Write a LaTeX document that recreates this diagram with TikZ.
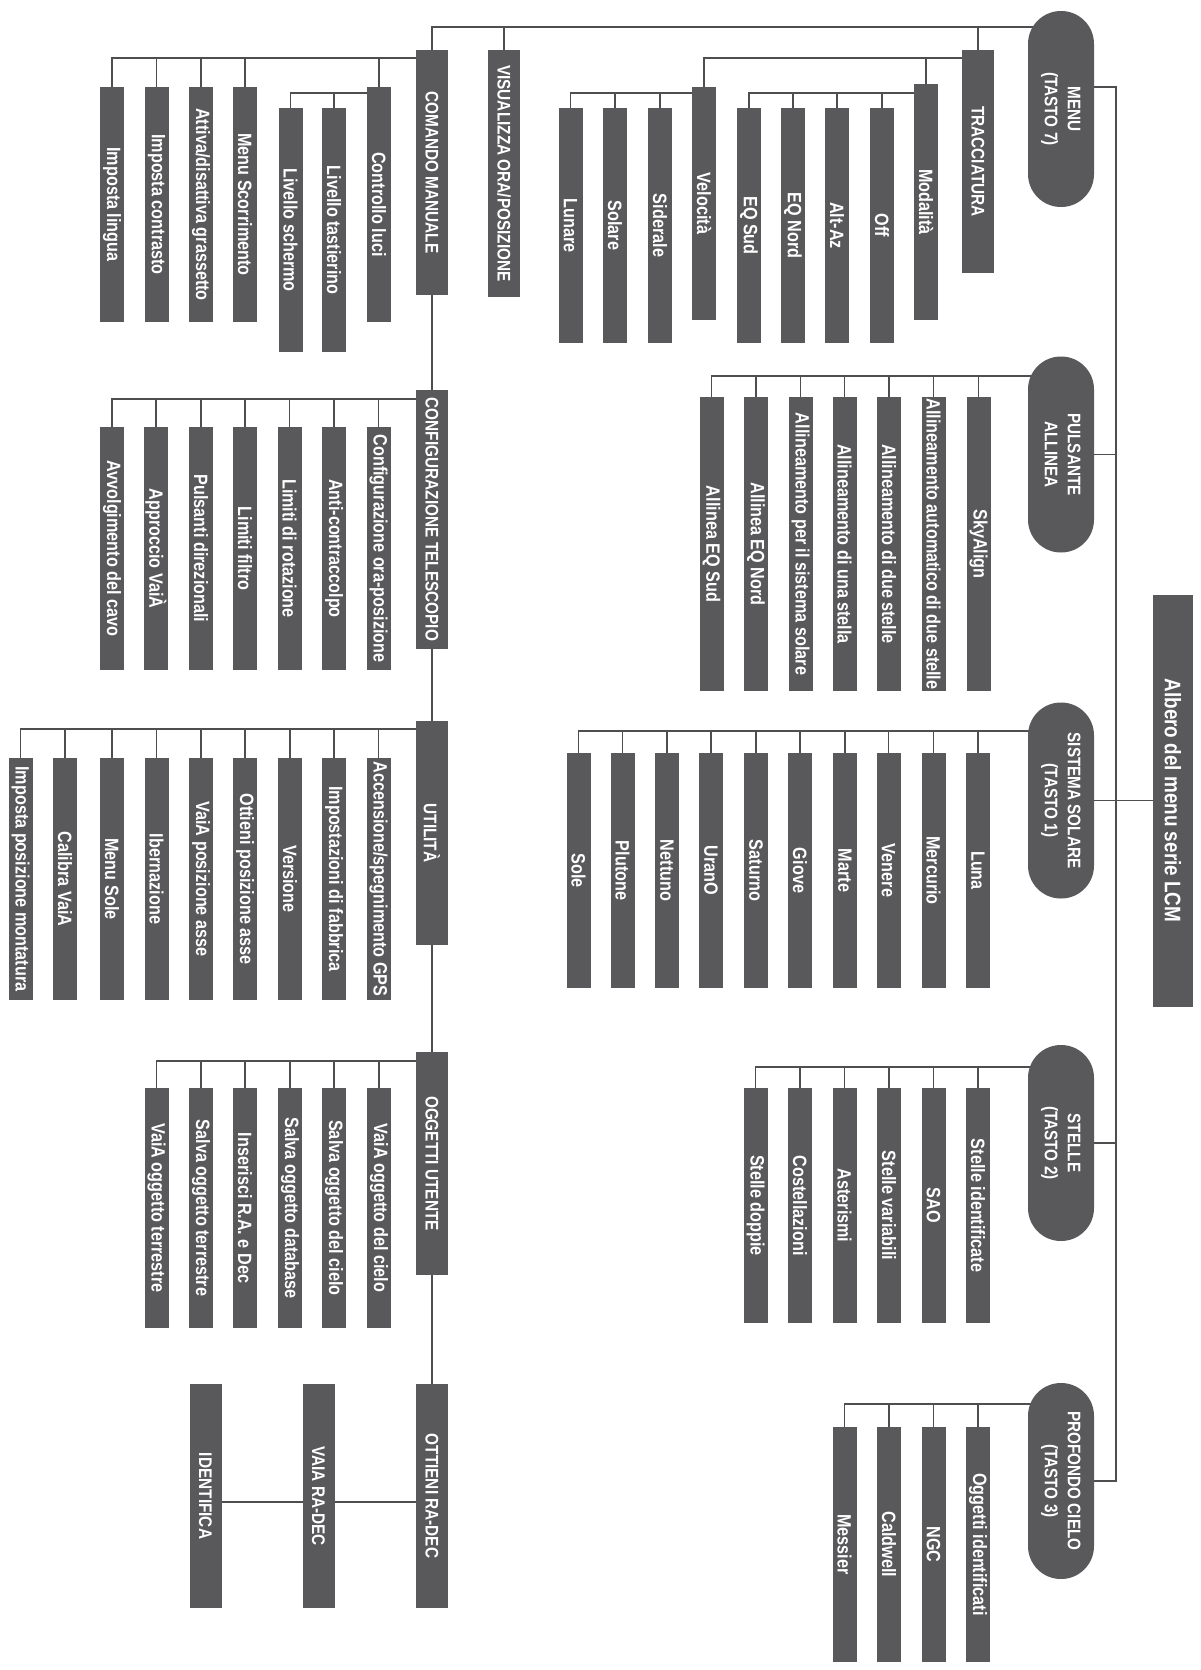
\documentclass[tikz,border=0pt]{standalone}
\usepackage{fontspec}
\setmainfont{Liberation Sans}
\newfontfamily\lblfont{Liberation Sans Bold}[FakeStretch=0.84]
\usepackage{graphicx}
\usetikzlibrary{backgrounds}
\definecolor{boxc}{RGB}{89,88,90}
\definecolor{linec}{RGB}{78,78,78}
\tikzset{
  conn/.style={draw=linec, line width=1.5pt},
  leaf/.style={fill=boxc, text=white, inner sep=0pt, minimum width=24pt, font=\lblfont\fontsize{19.3}{21}\selectfont},
  mainbox/.style={fill=boxc, text=white, inner sep=0pt, minimum width=32pt, font=\lblfont\fontsize{18.3}{20}\selectfont},
  pill/.style={fill=boxc, text=white, inner sep=0pt, minimum width=66pt, minimum height=196pt, rounded corners=32.9pt, font=\lblfont\fontsize{18.2}{23}\selectfont},
  titlebox/.style={fill=boxc, text=white, inner sep=0pt, minimum width=40pt, minimum height=412pt, font=\lblfont\fontsize{22.5}{24}\selectfont},
}
\newcommand{\rt}[1]{\rotatebox{-90}{#1}}
\newcommand{\rtt}[2]{\rotatebox{-90}{\begin{tabular}{@{}c@{}}#1\\#2\end{tabular}}}
\begin{document}
\begin{tikzpicture}[x=1pt,y=-1pt]
\useasboundingbox (0,0) rectangle (1201,1670);

% ---------- pills and title ----------
\node[pill] (menu) at (1061,109) {\rtt{MENU}{(TASTO 7)}};
\node[pill] (pulsante) at (1061,454.5) {\rtt{PULSANTE}{ALLINEA}};
\node[pill] (sistema) at (1061,800.5) {\rtt{SISTEMA SOLARE}{(TASTO 1)}};
\node[pill] (stelle) at (1061,1143) {\rtt{STELLE}{(TASTO 2)}};
\node[pill] (profondo) at (1061,1481) {\rtt{PROFONDO CIELO}{(TASTO 3)}};
\node[titlebox] (title) at (1173,800.5) {\rt{Albero del menu serie LCM}};

% ---------- main boxes ----------
\node[mainbox, minimum height=223] (tracc) at (978,161.5) {\rt{TRACCIATURA}};
\node[mainbox, minimum height=247] (visual) at (504,173.5) {\rt{VISUALIZZA ORA/POSIZIONE}};
\node[mainbox, minimum height=245] (comando) at (432,172.5) {\rt{COMANDO MANUALE}};
\node[mainbox, minimum height=259] (config) at (432,519.5) {\rt{CONFIGURAZIONE TELESCOPIO}};
\node[mainbox, minimum height=224] (utilita) at (432,833) {\rt{UTILITÀ}};
\node[mainbox, minimum height=223] (oggetti) at (432,1163.5) {\rt{OGGETTI UTENTE}};
\node[mainbox, minimum height=224] (ottieni) at (432,1496) {\rt{OTTIENI RA-DEC}};
\node[mainbox, minimum height=224] (vaia) at (318.5,1496) {\rt{VAIA RA-DEC}};
\node[mainbox, minimum height=224] (identifica) at (205.5,1496) {\rt{IDENTIFICA}};

% ---------- tracciatura ----------
\node[leaf, minimum height=236] (modal) at (926,202) {\rt{Modalità}};
\node[leaf, minimum height=233] (veloc) at (704,203.5) {\rt{Velocità}};
\node[leaf, minimum height=235] (off) at (882,225.5) {\rt{Off}};
\node[leaf, minimum height=235] (altaz) at (837,225.5) {\rt{Alt-Az}};
\node[leaf, minimum height=235] (eqnord) at (793,225.5) {\rt{EQ Nord}};
\node[leaf, minimum height=235] (eqsud) at (749,225.5) {\rt{EQ Sud}};
\node[leaf, minimum height=235] (siderale) at (660,225.5) {\rt{Siderale}};
\node[leaf, minimum height=235] (solare) at (615,225.5) {\rt{Solare}};
\node[leaf, minimum height=235] (lunare) at (570.5,225.5) {\rt{Lunare}};

% ---------- comando manuale ----------
\node[leaf, minimum height=235] (luci) at (379,204.5) {\rt{Controllo luci}};
\node[leaf, minimum height=235] (scorr) at (245,204.5) {\rt{Menu Scorrimento}};
\node[leaf, minimum height=235] (grass) at (201,204.5) {\rt{Attiva/disattiva grassetto}};
\node[leaf, minimum height=235] (contr) at (156.5,204.5) {\rt{Imposta contrasto}};
\node[leaf, minimum height=235] (lingua) at (112,204.5) {\rt{Imposta lingua}};
\node[leaf, minimum height=244] (tast) at (334,230) {\rt{Livello tastierino}};
\node[leaf, minimum height=244] (scherm) at (290.5,230) {\rt{Livello schermo}};

% ---------- configurazione ----------
\node[leaf, minimum height=243] (cf1) at (112,548.5) {\rt{Avvolgimento del cavo}};
\node[leaf, minimum height=243] (cf2) at (156,548.5) {\rt{Approccio VaiÀ}};
\node[leaf, minimum height=243] (cf3) at (201,548.5) {\rt{Pulsanti direzionali}};
\node[leaf, minimum height=243] (cf4) at (245,548.5) {\rt{Limiti filtro}};
\node[leaf, minimum height=243] (cf5) at (289.5,548.5) {\rt{Limiti di rotazione}};
\node[leaf, minimum height=243] (cf6) at (334,548.5) {\rt{Anti-contraccolpo}};
\node[leaf, minimum height=243] (cf7) at (378.5,548.5) {\rt{Configurazione ora-posizione}};

% ---------- utilita ----------
\node[leaf, minimum height=242] (ut1) at (20.5,879) {\rt{Imposta posizione montatura}};
\node[leaf, minimum height=242] (ut2) at (65,879) {\rt{Calibra VaiA}};
\node[leaf, minimum height=242] (ut3) at (112,879) {\rt{Menu Sole}};
\node[leaf, minimum height=242] (ut4) at (156.5,879) {\rt{Ibernazione}};
\node[leaf, minimum height=242] (ut5) at (201,879) {\rt{VaiA posizione asse}};
\node[leaf, minimum height=242] (ut6) at (245,879) {\rt{Ottieni posizione asse}};
\node[leaf, minimum height=242] (ut7) at (290,879) {\rt{Versione}};
\node[leaf, minimum height=242] (ut8) at (334,879) {\rt{Impostazioni di fabbrica}};
\node[leaf, minimum height=242] (ut9) at (378.5,879) {\rt{Accensione/spegnimento GPS}};

% ---------- oggetti utente ----------
\node[leaf, minimum height=240] (og1) at (156.5,1208) {\rt{VaiA oggetto terrestre}};
\node[leaf, minimum height=240] (og2) at (201,1208) {\rt{Salva oggetto terrestre}};
\node[leaf, minimum height=240] (og3) at (245,1208) {\rt{Inserisci R.A. e Dec}};
\node[leaf, minimum height=240] (og4) at (290,1208) {\rt{Salva oggetto database}};
\node[leaf, minimum height=240] (og5) at (334,1208) {\rt{Salva oggetto del cielo}};
\node[leaf, minimum height=240] (og6) at (379,1208) {\rt{VaiA oggetto del cielo}};

% ---------- pulsante allinea ----------
\node[leaf, minimum height=294] (pu1) at (711.5,544) {\rt{Allinea EQ Sud}};
\node[leaf, minimum height=294] (pu2) at (756,544) {\rt{Allinea EQ Nord}};
\node[leaf, minimum height=294] (pu3) at (800.5,544) {\rt{Allineamento per il sistema solare}};
\node[leaf, minimum height=294] (pu4) at (844.5,544) {\rt{Allineamento di una stella}};
\node[leaf, minimum height=294] (pu5) at (889,544) {\rt{Allineamento di due stelle}};
\node[leaf, minimum height=294] (pu6) at (933.5,544) {\rt{Allineamento automatico di due stelle}};
\node[leaf, minimum height=294] (pu7) at (978.5,544) {\rt{SkyAlign}};

% ---------- sistema solare ----------
\node[leaf, minimum height=235] (si1) at (578.5,870.5) {\rt{Sole}};
\node[leaf, minimum height=235] (si2) at (622.5,870.5) {\rt{Plutone}};
\node[leaf, minimum height=235] (si3) at (667,870.5) {\rt{Nettuno}};
\node[leaf, minimum height=235] (si4) at (711,870.5) {\rt{UranO}};
\node[leaf, minimum height=235] (si5) at (756,870.5) {\rt{Saturno}};
\node[leaf, minimum height=235] (si6) at (800,870.5) {\rt{Giove}};
\node[leaf, minimum height=235] (si7) at (845,870.5) {\rt{Marte}};
\node[leaf, minimum height=235] (si8) at (888.5,870.5) {\rt{Venere}};
\node[leaf, minimum height=235] (si9) at (933.5,870.5) {\rt{Mercurio}};
\node[leaf, minimum height=235] (si10) at (978,870.5) {\rt{Luna}};

% ---------- stelle ----------
\node[leaf, minimum height=235] (st1) at (755.5,1205.5) {\rt{Stelle doppie}};
\node[leaf, minimum height=235] (st2) at (800,1205.5) {\rt{Costellazioni}};
\node[leaf, minimum height=235] (st3) at (844.5,1205.5) {\rt{Asterismi}};
\node[leaf, minimum height=235] (st4) at (889,1205.5) {\rt{Stelle variabili}};
\node[leaf, minimum height=235] (st5) at (933.5,1205.5) {\rt{SAO}};
\node[leaf, minimum height=235] (st6) at (978,1205.5) {\rt{Stelle identificate}};

% ---------- profondo cielo ----------
\node[leaf, minimum height=235] (pr1) at (844.5,1544.5) {\rt{Messier}};
\node[leaf, minimum height=235] (pr2) at (889,1544.5) {\rt{Caldwell}};
\node[leaf, minimum height=235] (pr3) at (933.5,1544.5) {\rt{NGC}};
\node[leaf, minimum height=235] (pr4) at (978,1544.5) {\rt{Oggetti identificati}};

% ---------- connectors (behind the boxes) ----------
\begin{scope}[on background layer]
\fill[white] (0,0) rectangle (1201,1670);
% top bus from MENU
\coordinate (bT) at (1061,27);
\draw[conn] (bT) -| (comando.north);
\draw[conn] (tracc.north) -- (tracc.north |- bT);
\draw[conn] (visual.north) -- (visual.north |- bT);
% tracciatura
\coordinate (bTr) at (978,58);
\draw[conn] (bTr) -| (veloc.north);
\draw[conn] (modal.north) -- (modal.north |- bTr);
\coordinate (bMo) at (926,93);
\draw[conn] (bMo) -| (eqsud.north);
\foreach \n in {off,altaz,eqnord} \draw[conn] (\n.north) -- (\n.north |- bMo);
\coordinate (bVe) at (704,93);
\draw[conn] (bVe) -| (lunare.north);
\foreach \n in {solare,siderale} \draw[conn] (\n.north) -- (\n.north |- bVe);
% comando manuale
\coordinate (bCo) at (432,58);
\draw[conn] (bCo) -| (lingua.north);
\foreach \n in {contr,grass,scorr,luci} \draw[conn] (\n.north) -- (\n.north |- bCo);
\coordinate (bLu) at (379,93);
\draw[conn] (bLu) -| (scherm.north);
\draw[conn] (tast.north) -- (tast.north |- bLu);
% main vertical spine
\draw[conn] (comando.south) -- (config.north);
\draw[conn] (config.south) -- (utilita.north);
\draw[conn] (utilita.south) -- (oggetti.north);
\draw[conn] (oggetti.south) -- (ottieni.north);
% configurazione
\coordinate (bCf) at (432,399);
\draw[conn] (bCf) -| (cf1.north);
\foreach \n in {cf2,cf3,cf4,cf5,cf6,cf7} \draw[conn] (\n.north) -- (\n.north |- bCf);
% utilita
\coordinate (bUt) at (432,729);
\draw[conn] (bUt) -| (ut1.north);
\foreach \n in {ut2,ut3,ut4,ut5,ut6,ut7,ut8,ut9} \draw[conn] (\n.north) -- (\n.north |- bUt);
% oggetti utente
\coordinate (bOg) at (432,1061);
\draw[conn] (bOg) -| (og1.north);
\foreach \n in {og2,og3,og4,og5,og6} \draw[conn] (\n.north) -- (\n.north |- bOg);
% ottieni ra-dec
\coordinate (bOt) at (432,1502);
\draw[conn] (bOt) -- (bOt -| identifica);
% pulsante allinea
\coordinate (bPu) at (1061,376);
\draw[conn] (bPu) -| (pu1.north);
\foreach \n in {pu2,pu3,pu4,pu5,pu6,pu7} \draw[conn] (\n.north) -- (\n.north |- bPu);
% sistema solare
\coordinate (bSi) at (1061,731);
\draw[conn] (bSi) -| (si1.north);
\foreach \n in {si2,si3,si4,si5,si6,si7,si8,si9,si10} \draw[conn] (\n.north) -- (\n.north |- bSi);
% stelle
\coordinate (bSt) at (1061,1067);
\draw[conn] (bSt) -| (st1.north);
\foreach \n in {st2,st3,st4,st5,st6} \draw[conn] (\n.north) -- (\n.north |- bSt);
% profondo cielo
\coordinate (bPr) at (1061,1404);
\draw[conn] (bPr) -| (pr1.north);
\foreach \n in {pr2,pr3,pr4} \draw[conn] (\n.north) -- (\n.north |- bPr);
% right-hand bus
\coordinate (r0) at (1116,87);
\draw[conn] (menu.center |- r0) -- (r0) |- (profondo.center);
\draw[conn] (pulsante.center) -- (pulsante.center -| r0);
\draw[conn] (sistema.center) -- (title.center);
\draw[conn] (stelle.center) -- (stelle.center -| r0);
\end{scope}
\end{tikzpicture}
\end{document}
